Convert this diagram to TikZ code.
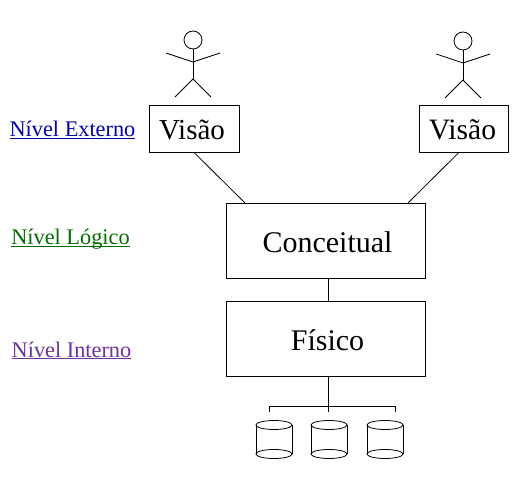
\documentclass[tikz,border=0pt]{standalone}
\usepackage{fontspec}
\setmainfont{Liberation Serif}
\definecolor{nivelazul}{RGB}{0,0,170}
\definecolor{nivelverde}{RGB}{0,110,0}
\definecolor{nivelroxo}{RGB}{112,48,160}
\tikzset{
  caixa/.style={draw, inner sep=0pt, line width=0.8pt},
  nivel/.style={inner sep=0pt, anchor=base, font=\fontsize{22.3}{24}\selectfont},
  fio/.style={line width=0.8pt}
}
\begin{document}
\begin{tikzpicture}[x=1pt, y=-1pt, line width=0.8pt]
		\useasboundingbox (0,0) rectangle (514,494);
		% actors above the views
		\foreach \x/\y in {193/40, 463/41}
		{
			\draw (\x,\y) circle (9);
			\draw (\x,\y+9) -- (\x,\y+39);
			\draw (\x-27,\y+13) -- (\x,\y+22) -- (\x+27,\y+13);
			\draw (\x-18,\y+57) -- (\x,\y+39) -- (\x+18,\y+57);
		}
		% boxes of the levels
		\node[caixa, minimum width=90pt, minimum height=47pt, text height=21.6pt, text depth=0pt, font=\fontsize{29}{32}\selectfont] (visaoA) at (194,128.5) {Visão\kern4pt};
		\node[caixa, minimum width=89pt, minimum height=47pt, text height=21.6pt, text depth=0pt, font=\fontsize{29.6}{32}\selectfont] (visaoB) at (463.5,128.5) {Visão\kern2pt};
		\node[caixa, minimum width=199pt, minimum height=75pt, text height=24pt, text depth=0pt, font=\fontsize{30}{32}\selectfont] (conceitual) at (325.5,240.5) {\kern4pt Conceitual};
		\node[caixa, minimum width=199pt, minimum height=75pt, text height=24pt, text depth=0pt, font=\fontsize{30}{32}\selectfont] (fisico) at (325.5,338.5) {\kern4pt Físico};
		% names of the levels
		\node[nivel, text=nivelazul] (externo) at (72.5,137) {\underline{\smash{Nível Externo}}};
		\node[nivel, text=nivelverde] (logico) at (70.5,244.5) {\underline{\smash{Nível Lógico}}};
		\node[nivel, text=nivelroxo] (interno) at (71.5,357) {\underline{\smash{Nível Interno}}};
		% links between the boxes
		\coordinate (entradaA) at (245,203);
		\coordinate (entradaB) at (408,203);
		\coordinate (meioC) at (328,278);
		\coordinate (meioF) at (328,301);
		\coordinate (saidaF) at (328,376);
		\coordinate (ramo) at (328,406);
		\draw[fio] (visaoA.south) -- (entradaA);
		\draw[fio] (visaoB.south -| 459,0) -- (entradaB);
		\draw[fio] (meioC) -- (meioF);
		\draw[fio] (saidaF) -- (ramo);
		% disks below the tree
		\foreach \nome/\x/\topo in {discoA/274/269, discoB/329/328, discoC/385/395}
		{
			\coordinate (\nome) at (\topo,412);
			\draw[fio] (ramo) -| (\nome);
			\draw (\x-18,425) -- (\x-18,454);
			\draw (\x+18,425) -- (\x+18,454);
			\draw (\x,425) ellipse (18 and 4.5);
			\draw (\x,454) ellipse (18 and 4.5);
		}
\end{tikzpicture}
\end{document}
